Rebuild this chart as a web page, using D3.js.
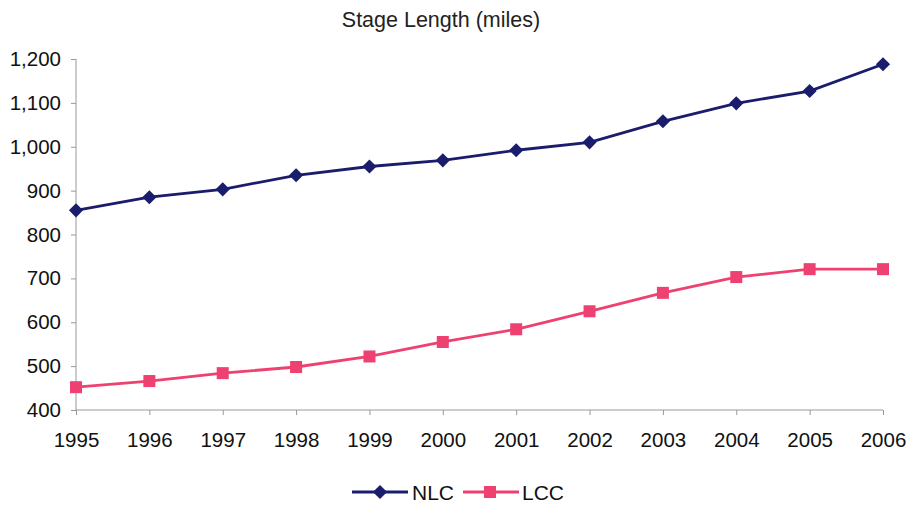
<!DOCTYPE html>
<html><head><meta charset="utf-8">
<script src="https://cdn.jsdelivr.net/npm/d3@7"></script>
<style>body{margin:0;background:#fff}svg{display:block}</style>
</head><body>
<svg id="c" width="911" height="508"></svg>
<script>
const years = [1995,1996,1997,1998,1999,2000,2001,2002,2003,2004,2005,2006];
const nlc = [855,885,903,935,955,969,992,1010,1058,1099,1127,1188];
const lcc = [452,466,484,498,522,555,584,625,667,703,721,721];
const yTicks = [400,500,600,700,800,900,1000,1100,1200];
const title = "Stage Length (miles)";
const seriesNames = ["NLC","LCC"];
const colors = ["#1a1c6c","#ee4171"];

const svg = d3.select("#c");
const font = "'Liberation Sans', Arial, sans-serif";
const x = d3.scalePoint().domain(years).range([76,883]);
const y = d3.scaleLinear().domain([400,1200]).range([410,59]);

svg.append("text").attr("x",441).attr("y",27).attr("text-anchor","middle")
  .attr("font-family",font).attr("font-size",21.5).attr("fill","#222").text(title);

const ya = svg.append("g").attr("transform","translate(76,0)")
  .call(d3.axisLeft(y).tickValues(yTicks).tickSize(5).tickPadding(10).tickFormat(d3.format(",")));
const xa = svg.append("g").attr("transform","translate(0,410)")
  .call(d3.axisBottom(x).tickSize(5).tickPadding(17).tickFormat(d=>String(d)));
[ya,xa].forEach(a=>{
  a.selectAll("path,line").attr("stroke","#999");
  a.select(".domain").attr("stroke","#999");
  a.selectAll("text").attr("font-family",font).attr("font-size",20.5).attr("fill","#111");
});
ya.select(".domain").attr("d","M0,59V410");
xa.select(".domain").attr("d","M76,0H883");

const line = d3.line().x((d,i)=>x(years[i])).y(d=>y(d));
const data = [nlc,lcc];
data.forEach((s,k)=>{
  svg.append("path").datum(s).attr("d",line).attr("fill","none")
    .attr("stroke",colors[k]).attr("stroke-width",2.8);
});
svg.append("g").selectAll("path").data(nlc).join("path")
  .attr("d",d3.symbol().type(d3.symbolSquare).size(100))
  .attr("transform",(d,i)=>`translate(${x(years[i])},${y(d)}) rotate(45)`)
  .attr("fill",colors[0]);
svg.append("g").selectAll("rect").data(lcc).join("rect")
  .attr("x",(d,i)=>x(years[i])-6).attr("y",d=>y(d)-6)
  .attr("width",12).attr("height",12).attr("fill",colors[1]);

// legend
const lg = svg.append("g").attr("transform","translate(0,492)");
const items = [{x0:352,mx:380,tx:412},{x0:463,mx:490,tx:522}];
items.forEach((it,k)=>{
  lg.append("line").attr("x1",it.x0).attr("x2",it.x0+56).attr("y1",0).attr("y2",0)
    .attr("stroke",colors[k]).attr("stroke-width",2.8);
  if(k===0){
    lg.append("path").attr("d",d3.symbol().type(d3.symbolSquare).size(100)())
      .attr("transform",`translate(${it.mx},0) rotate(45)`).attr("fill",colors[0]);
  } else {
    lg.append("rect").attr("x",it.mx-6).attr("y",-6).attr("width",12).attr("height",12).attr("fill",colors[1]);
  }
  lg.append("text").attr("x",it.tx).attr("y",7.5).attr("font-family",font).attr("font-size",21)
    .attr("fill","#111").text(seriesNames[k]);
});
</script>
</body></html>
